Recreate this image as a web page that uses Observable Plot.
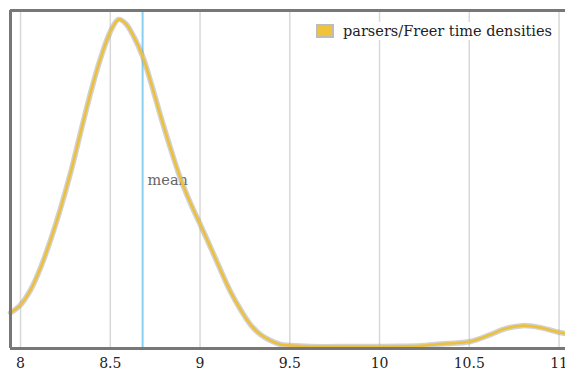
<!DOCTYPE html>
<html>
<head>
<meta charset="utf-8">
<script src="https://cdn.jsdelivr.net/npm/d3@7"></script>
<script src="https://cdn.jsdelivr.net/npm/@observablehq/plot@0.6"></script>
<style>
  html, body { margin: 0; padding: 0; background: #fff; }
  #wrap { position: relative; width: 565px; height: 372px; }
  #legend { position: absolute; left: 314px; top: 22px; display: flex; align-items: center;
    font-family: "DejaVu Serif", serif; font-size: 14.5px; color: #222; background: #fff; padding: 1px 2px; }
  #legend .sw { width: 14px; height: 10px; background: #f0c33c; border: 2px solid #bdbdbd; margin-right: 9px; }
</style>
</head>
<body>
<div id="wrap"><div id="legend"><span class="sw"></span><span id="legtext"></span></div></div>
<script>
const seriesName = "parsers/Freer time densities";
const meanValue = 8.68;
const meanLabel = "mean";
const xTicks = [8, 8.5, 9, 9.5, 10, 10.5, 11];
const timeValues = [7.944, 8.0, 8.056, 8.111, 8.167, 8.223, 8.279, 8.334, 8.39, 8.446, 8.501, 8.546, 8.585, 8.63, 8.68, 8.724, 8.78, 8.836, 8.891, 8.947, 9.003, 9.058, 9.114, 9.17, 9.226, 9.281, 9.337, 9.393, 9.448, 9.504, 9.616, 9.838, 10.117, 10.228, 10.340, 10.507, 10.618, 10.702, 10.797, 10.897, 10.981, 11.036];
const densityValues = [0.35, 0.43, 0.58, 0.80, 1.08, 1.40, 1.76, 2.16, 2.56, 2.91, 3.18, 3.30, 3.26, 3.13, 2.93, 2.68, 2.33, 2.00, 1.70, 1.45, 1.23, 1.01, 0.78, 0.56, 0.38, 0.23, 0.13, 0.07, 0.03, 0.02, 0.01, 0.01, 0.012, 0.018, 0.035, 0.06, 0.13, 0.19, 0.22, 0.20, 0.16, 0.14];

document.getElementById("legtext").textContent = seriesName;
const data = timeValues.map((t, i) => ({t, d: densityValues[i]}));
const xDomain = [7.944, 11.036];
const yDomain = [-0.01, 3.39];

const chart = Plot.plot({
  width: 565,
  height: 372,
  marginLeft: 10,
  marginRight: 0,
  marginTop: 10,
  marginBottom: 24,
  style: {fontFamily: "DejaVu Serif, serif", fontSize: "14px", color: "#222", background: "#fff"},
  x: {domain: xDomain, ticks: xTicks, tickFormat: d => String(d), tickSize: 0, tickPadding: 10, label: null},
  y: {domain: yDomain, axis: null},
  marks: [
    Plot.gridX(xTicks, {stroke: "#d8d8d8", strokeOpacity: 1, strokeWidth: 1.5}),
    Plot.ruleX([meanValue], {stroke: "#86d0f2", strokeWidth: 2}),
    Plot.text([meanLabel], {x: meanValue, y: 1.68, text: d => d, textAnchor: "start", dx: 5, fill: "#666", fontSize: 14.5}),
    Plot.line(data, {x: "t", y: "d", curve: "catmull-rom", stroke: "#999", strokeWidth: 5.5, strokeOpacity: 0.45}),
    Plot.line(data, {x: "t", y: "d", curve: "catmull-rom", stroke: "#edc03c", strokeWidth: 2.6}),
    Plot.ruleX([xDomain[0]], {stroke: "#777", strokeWidth: 3}),
    Plot.ruleY([yDomain[0]], {stroke: "#777", strokeWidth: 3}),
    Plot.ruleY([yDomain[1]], {stroke: "#777", strokeWidth: 3})
  ]
});
document.getElementById("wrap").prepend(chart);
</script>
</body>
</html>
